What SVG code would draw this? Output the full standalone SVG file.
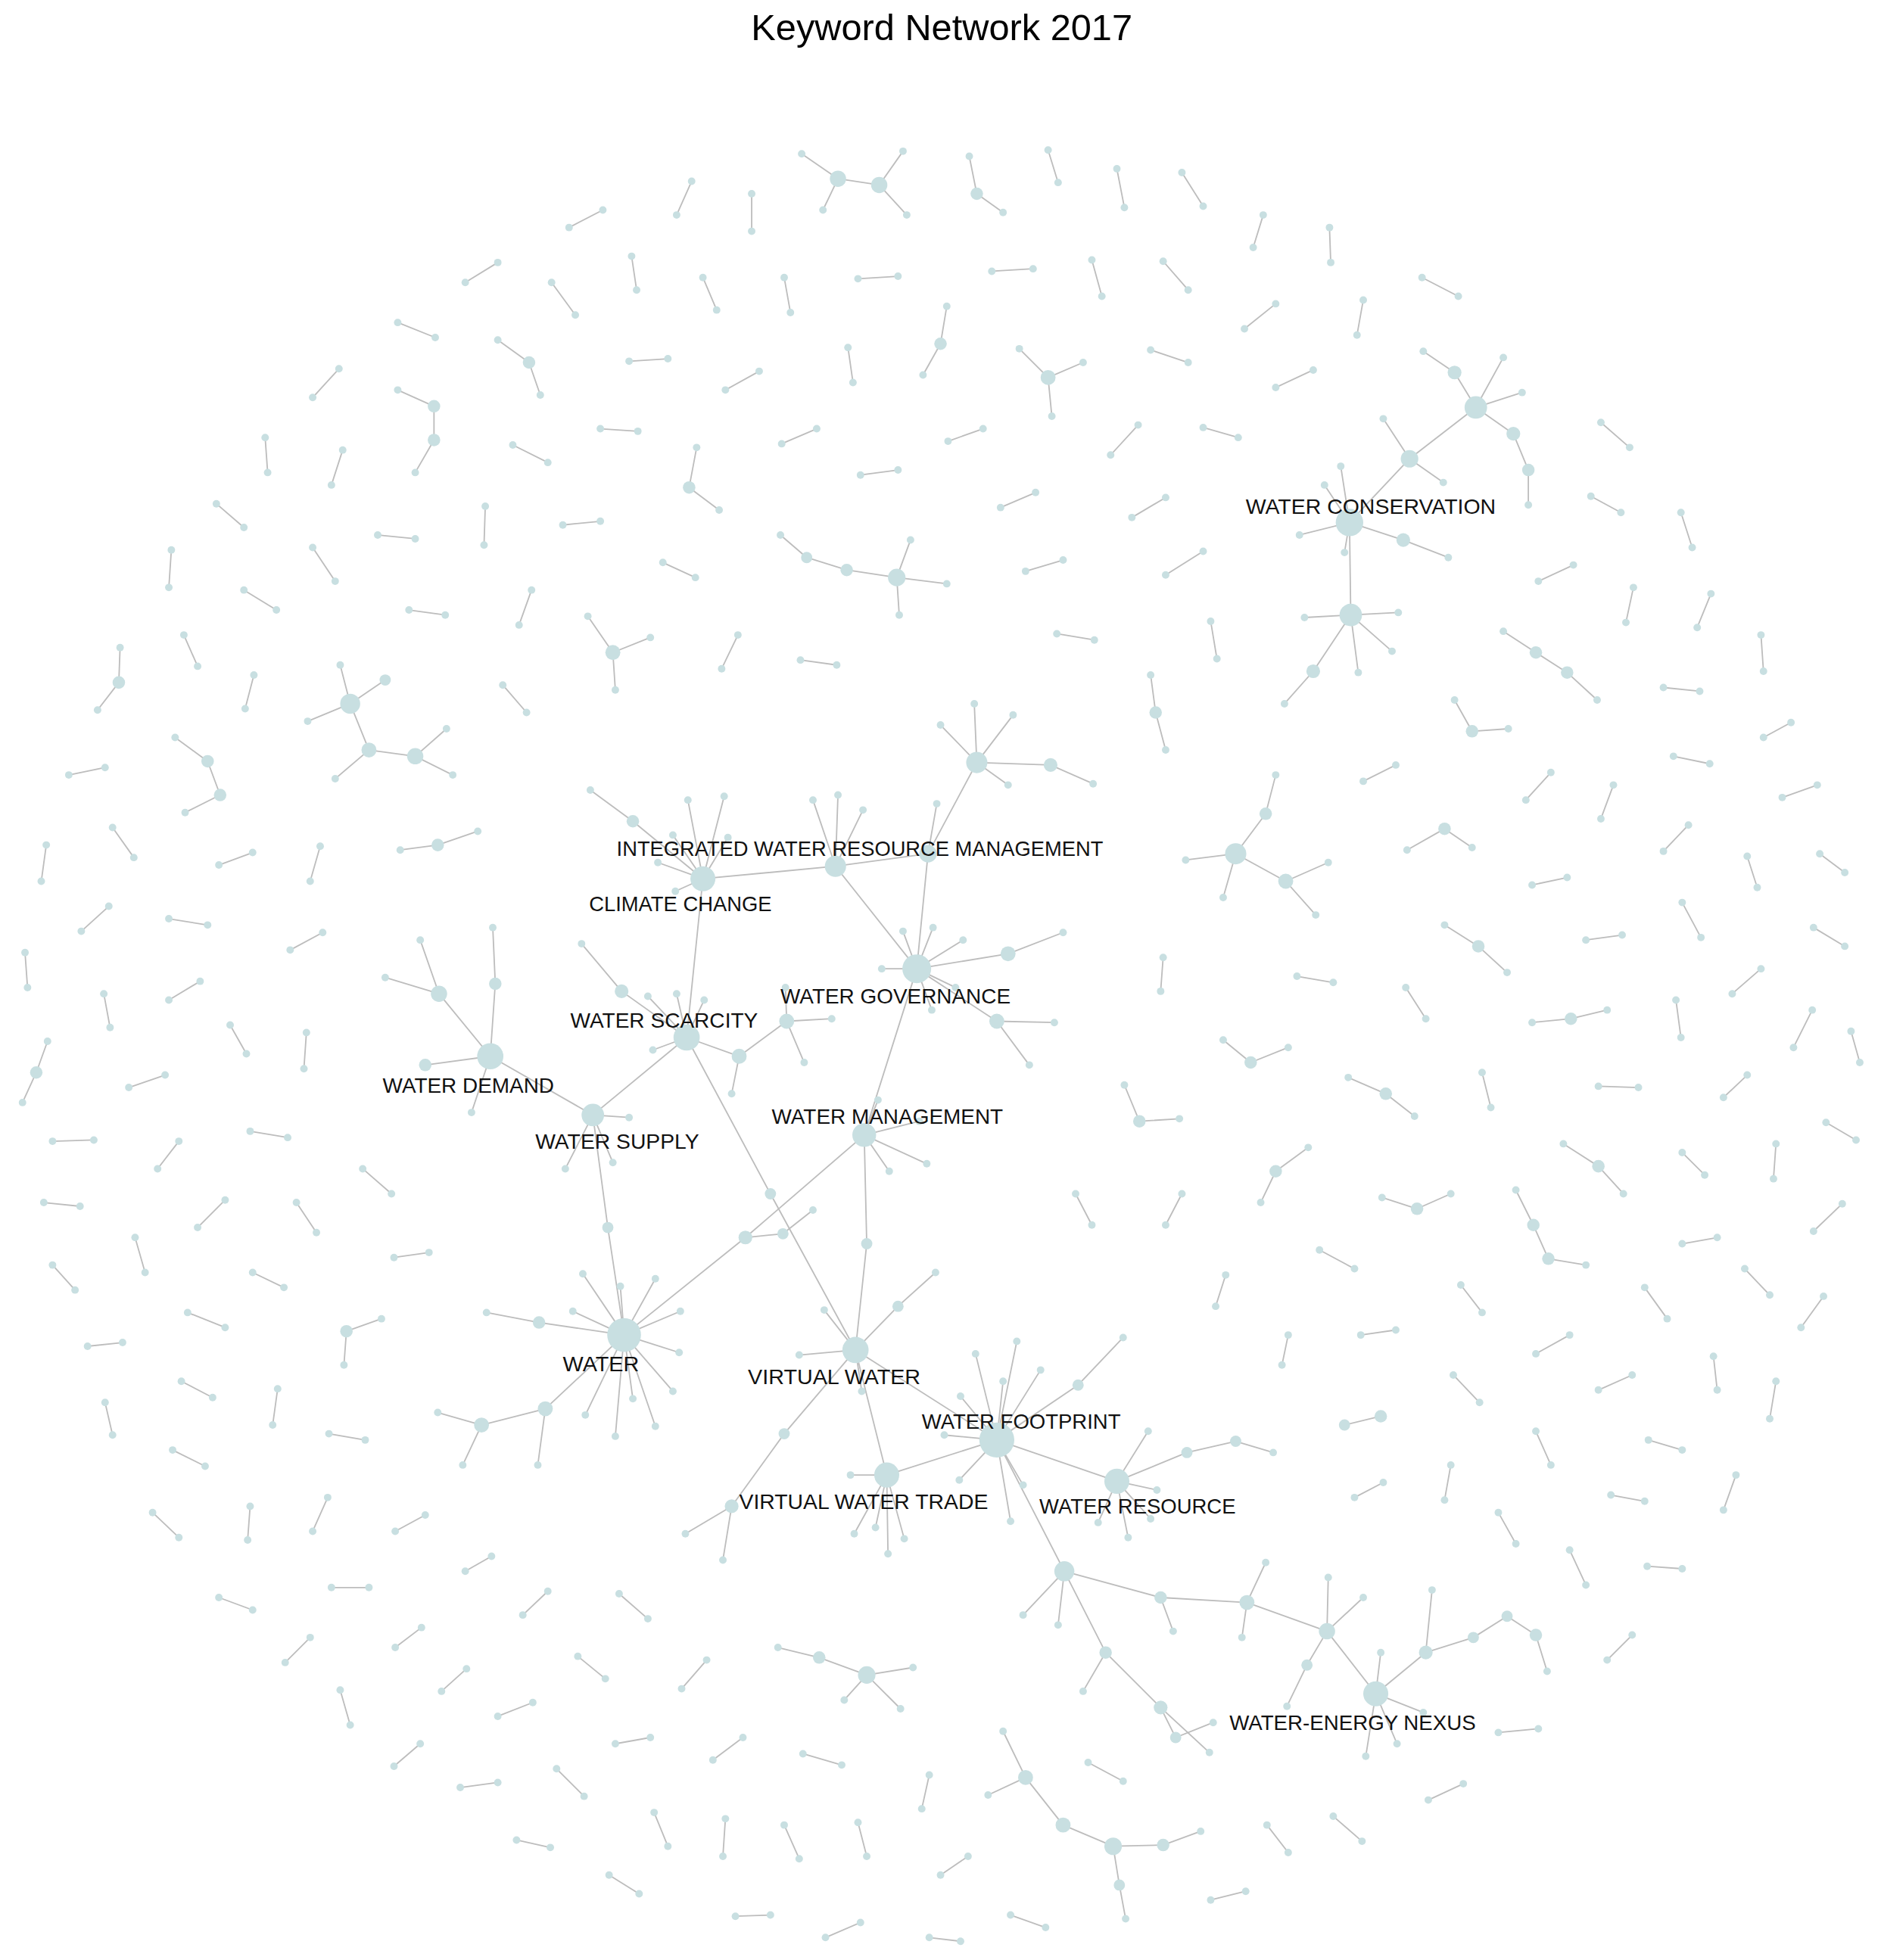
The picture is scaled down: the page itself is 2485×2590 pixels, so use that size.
<svg xmlns="http://www.w3.org/2000/svg" width="2485" height="2590" viewBox="0 0 2485 2590">
<style>
.e line{stroke:#bdbdbd;stroke-width:1.1;stroke-linecap:round}
.n circle{fill:#c8dfe1}
.lb{font-family:"Liberation Sans",Arial,sans-serif;font-size:17px;fill:#111}
.tt{font-family:"Liberation Sans",Arial,sans-serif;font-size:29.5px;fill:#000}
</style>
<rect width="2485" height="2590" fill="#fff"/>
<g transform="scale(1.6523 1.6518)">
<text class="tt" x="753" y="32" text-anchor="middle">Keyword Network 2017</text>
<g id="connectors" class="e">
<!-- main cluster -->
<line x1="562" y1="703" x2="668" y2="693"/><line x1="668" y1="693" x2="742" y2="683"/><line x1="742" y1="683" x2="781" y2="610"/><line x1="742" y1="683" x2="733" y2="775"/><line x1="668" y1="693" x2="733" y2="775"/><line x1="562" y1="703" x2="549" y2="830"/><line x1="733" y1="775" x2="691" y2="908"/><line x1="549" y1="830" x2="474" y2="892"/><line x1="474" y1="892" x2="392" y2="845"/><line x1="474" y1="892" x2="486" y2="982"/><line x1="486" y1="982" x2="499" y2="1068"/><line x1="549" y1="830" x2="616" y2="955"/><line x1="616" y1="955" x2="684" y2="1080"/><line x1="691" y1="908" x2="596" y2="990"/><line x1="596" y1="990" x2="499" y2="1068"/><line x1="596" y1="990" x2="626" y2="987"/><line x1="626" y1="987" x2="650" y2="968"/><line x1="691" y1="908" x2="693" y2="995"/><line x1="693" y1="995" x2="684" y2="1080"/><line x1="684" y1="1080" x2="709" y2="1180"/><line x1="684" y1="1080" x2="797" y2="1152"/><line x1="709" y1="1180" x2="797" y2="1152"/><line x1="797" y1="1152" x2="893" y2="1185"/><line x1="797" y1="1152" x2="851" y2="1257"/>
<line x1="684" y1="1080" x2="627" y2="1147"/><line x1="627" y1="1147" x2="585" y2="1205"/><line x1="585" y1="1205" x2="548" y2="1227"/><line x1="585" y1="1205" x2="578" y2="1248"/><line x1="684" y1="1080" x2="718" y2="1045"/><line x1="718" y1="1045" x2="748" y2="1018"/><line x1="684" y1="1080" x2="659" y2="1048"/><line x1="684" y1="1080" x2="639" y2="1084"/><line x1="684" y1="1080" x2="689" y2="1113"/>
<line x1="797" y1="1152" x2="862" y2="1108"/><line x1="862" y1="1108" x2="898" y2="1070"/><line x1="893" y1="1185" x2="949" y2="1162"/><line x1="949" y1="1162" x2="988" y2="1153"/><line x1="988" y1="1153" x2="1018" y2="1162"/>
<line x1="851" y1="1257" x2="928" y2="1278"/><line x1="928" y1="1278" x2="997" y2="1282"/><line x1="997" y1="1282" x2="1061" y2="1305"/><line x1="1061" y1="1305" x2="1100" y2="1355"/><line x1="851" y1="1257" x2="884" y2="1322"/><line x1="884" y1="1322" x2="928" y2="1366"/><line x1="928" y1="1366" x2="967" y2="1402"/><line x1="928" y1="1366" x2="940" y2="1390"/><line x1="940" y1="1390" x2="970" y2="1378"/><line x1="884" y1="1322" x2="866" y2="1353"/><line x1="851" y1="1257" x2="818" y2="1292"/><line x1="851" y1="1257" x2="846" y2="1300"/><line x1="928" y1="1278" x2="938" y2="1305"/><line x1="997" y1="1282" x2="1012" y2="1250"/><line x1="997" y1="1282" x2="993" y2="1310"/><line x1="1061" y1="1305" x2="1062" y2="1262"/><line x1="1061" y1="1305" x2="1090" y2="1278"/><line x1="1061" y1="1305" x2="1045" y2="1332"/><line x1="1045" y1="1332" x2="1029" y2="1365"/>
<line x1="1100" y1="1355" x2="1104" y2="1322"/><line x1="1100" y1="1355" x2="1138" y2="1370"/><line x1="1100" y1="1355" x2="1117" y2="1395"/><line x1="1100" y1="1355" x2="1092" y2="1405"/><line x1="1100" y1="1355" x2="1140" y2="1322"/><line x1="1140" y1="1322" x2="1178" y2="1310"/><line x1="1178" y1="1310" x2="1205" y2="1293"/><line x1="1205" y1="1293" x2="1228" y2="1308"/><line x1="1228" y1="1308" x2="1237" y2="1337"/><line x1="1140" y1="1322" x2="1145" y2="1272"/>
<line x1="562" y1="703" x2="506" y2="657"/><line x1="506" y1="657" x2="472" y2="632"/><line x1="562" y1="703" x2="550" y2="640"/><line x1="562" y1="703" x2="579" y2="637"/><line x1="562" y1="703" x2="538" y2="668"/><line x1="562" y1="703" x2="526" y2="690"/><line x1="562" y1="703" x2="540" y2="713"/><line x1="562" y1="703" x2="582" y2="670"/>
<line x1="668" y1="693" x2="650" y2="640"/><line x1="668" y1="693" x2="670" y2="636"/><line x1="668" y1="693" x2="690" y2="648"/><line x1="742" y1="683" x2="749" y2="643"/>
<line x1="781" y1="610" x2="779" y2="563"/><line x1="781" y1="610" x2="810" y2="572"/><line x1="781" y1="610" x2="752" y2="580"/><line x1="781" y1="610" x2="806" y2="628"/><line x1="781" y1="610" x2="840" y2="612"/><line x1="840" y1="612" x2="874" y2="627"/>
<line x1="733" y1="775" x2="722" y2="745"/><line x1="733" y1="775" x2="746" y2="742"/><line x1="733" y1="775" x2="770" y2="752"/><line x1="733" y1="775" x2="705" y2="775"/><line x1="733" y1="775" x2="764" y2="790"/><line x1="733" y1="775" x2="745" y2="808"/><line x1="733" y1="775" x2="806" y2="763"/><line x1="806" y1="763" x2="850" y2="746"/><line x1="733" y1="775" x2="797" y2="817"/><line x1="797" y1="817" x2="843" y2="818"/><line x1="797" y1="817" x2="823" y2="852"/>
<line x1="549" y1="830" x2="497" y2="793"/><line x1="497" y1="793" x2="465" y2="755"/><line x1="549" y1="830" x2="518" y2="797"/><line x1="549" y1="830" x2="541" y2="795"/><line x1="549" y1="830" x2="563" y2="800"/><line x1="549" y1="830" x2="522" y2="840"/><line x1="549" y1="830" x2="591" y2="845"/><line x1="591" y1="845" x2="629" y2="817"/><line x1="629" y1="817" x2="665" y2="815"/><line x1="629" y1="817" x2="643" y2="850"/><line x1="629" y1="817" x2="628" y2="790"/><line x1="591" y1="845" x2="585" y2="875"/>
<line x1="474" y1="892" x2="503" y2="894"/><line x1="474" y1="892" x2="452" y2="935"/><line x1="474" y1="892" x2="490" y2="930"/>
<line x1="392" y1="845" x2="396" y2="787"/><line x1="396" y1="787" x2="394" y2="742"/><line x1="392" y1="845" x2="351" y2="795"/><line x1="351" y1="795" x2="336" y2="752"/><line x1="351" y1="795" x2="308" y2="782"/><line x1="392" y1="845" x2="340" y2="852"/><line x1="392" y1="845" x2="377" y2="890"/>
<line x1="691" y1="908" x2="702" y2="880"/><line x1="691" y1="908" x2="735" y2="897"/><line x1="691" y1="908" x2="741" y2="931"/><line x1="691" y1="908" x2="711" y2="937"/>
<line x1="499" y1="1068" x2="466" y2="1019"/><line x1="499" y1="1068" x2="496" y2="1029"/><line x1="499" y1="1068" x2="524" y2="1023"/><line x1="499" y1="1068" x2="544" y2="1049"/><line x1="499" y1="1068" x2="543" y2="1082"/><line x1="499" y1="1068" x2="538" y2="1113"/><line x1="499" y1="1068" x2="524" y2="1141"/><line x1="499" y1="1068" x2="506" y2="1119"/><line x1="499" y1="1068" x2="492" y2="1149"/><line x1="499" y1="1068" x2="468" y2="1132"/><line x1="499" y1="1068" x2="458" y2="1049"/><line x1="499" y1="1068" x2="431" y2="1058"/><line x1="431" y1="1058" x2="389" y2="1050"/><line x1="499" y1="1068" x2="436" y2="1127"/><line x1="436" y1="1127" x2="385" y2="1140"/><line x1="385" y1="1140" x2="350" y2="1130"/><line x1="385" y1="1140" x2="370" y2="1172"/><line x1="436" y1="1127" x2="430" y2="1172"/>
<line x1="709" y1="1180" x2="680" y2="1180"/><line x1="709" y1="1180" x2="683" y2="1227"/><line x1="709" y1="1180" x2="700" y2="1222"/><line x1="709" y1="1180" x2="710" y2="1243"/><line x1="709" y1="1180" x2="723" y2="1231"/>
<line x1="797" y1="1152" x2="780" y2="1083"/><line x1="797" y1="1152" x2="813" y2="1073"/><line x1="797" y1="1152" x2="832" y2="1096"/><line x1="797" y1="1152" x2="802" y2="1105"/><line x1="797" y1="1152" x2="768" y2="1117"/><line x1="797" y1="1152" x2="755" y2="1148"/><line x1="797" y1="1152" x2="767" y2="1184"/><line x1="797" y1="1152" x2="808" y2="1217"/><line x1="797" y1="1152" x2="818" y2="1188"/>
<line x1="893" y1="1185" x2="918" y2="1145"/><line x1="893" y1="1185" x2="925" y2="1192"/><line x1="893" y1="1185" x2="878" y2="1218"/><line x1="893" y1="1185" x2="902" y2="1230"/><line x1="893" y1="1185" x2="920" y2="1215"/>
<!-- water conservation cluster -->
<line x1="1079" y1="418" x2="1127" y2="367"/><line x1="1127" y1="367" x2="1180" y2="326"/><line x1="1127" y1="367" x2="1106" y2="335"/><line x1="1127" y1="367" x2="1154" y2="386"/><line x1="1180" y1="326" x2="1163" y2="298"/><line x1="1163" y1="298" x2="1138" y2="281"/><line x1="1180" y1="326" x2="1202" y2="286"/><line x1="1180" y1="326" x2="1217" y2="314"/><line x1="1180" y1="326" x2="1210" y2="347"/><line x1="1210" y1="347" x2="1222" y2="376"/><line x1="1222" y1="376" x2="1222" y2="404"/>
<line x1="1079" y1="418" x2="1072" y2="373"/><line x1="1079" y1="418" x2="1059" y2="388"/><line x1="1079" y1="418" x2="1039" y2="428"/><line x1="1079" y1="418" x2="1075" y2="442"/><line x1="1079" y1="418" x2="1122" y2="432"/><line x1="1122" y1="432" x2="1158" y2="446"/><line x1="1079" y1="418" x2="1080" y2="492"/><line x1="1080" y1="492" x2="1043" y2="494"/><line x1="1080" y1="492" x2="1118" y2="490"/><line x1="1080" y1="492" x2="1113" y2="521"/><line x1="1080" y1="492" x2="1086" y2="538"/><line x1="1080" y1="492" x2="1050" y2="537"/><line x1="1050" y1="537" x2="1027" y2="563"/>
<!-- other small components -->
<line x1="988" y1="683" x2="1012" y2="651"/><line x1="1012" y1="651" x2="1020" y2="620"/><line x1="988" y1="683" x2="948" y2="688"/><line x1="988" y1="683" x2="978" y2="718"/><line x1="988" y1="683" x2="1028" y2="705"/><line x1="1028" y1="705" x2="1062" y2="690"/><line x1="1028" y1="705" x2="1052" y2="732"/>
<line x1="641" y1="123" x2="670" y2="143"/><line x1="670" y1="143" x2="703" y2="148"/><line x1="703" y1="148" x2="722" y2="121"/><line x1="703" y1="148" x2="725" y2="172"/><line x1="670" y1="143" x2="658" y2="168"/>
<line x1="775" y1="125" x2="781" y2="155"/><line x1="781" y1="155" x2="802" y2="170"/>
<line x1="838" y1="302" x2="815" y2="279"/><line x1="838" y1="302" x2="866" y2="290"/><line x1="838" y1="302" x2="841" y2="333"/>
<line x1="757" y1="245" x2="752" y2="275"/><line x1="752" y1="275" x2="738" y2="300"/>
<line x1="398" y1="272" x2="423" y2="290"/><line x1="423" y1="290" x2="432" y2="316"/>
<line x1="318" y1="312" x2="347" y2="325"/><line x1="347" y1="325" x2="347" y2="352"/><line x1="347" y1="352" x2="332" y2="378"/>
<line x1="557" y1="358" x2="551" y2="390"/><line x1="551" y1="390" x2="575" y2="408"/>
<line x1="624" y1="428" x2="645" y2="446"/><line x1="645" y1="446" x2="677" y2="456"/><line x1="677" y1="456" x2="717" y2="462"/><line x1="717" y1="462" x2="757" y2="467"/><line x1="717" y1="462" x2="728" y2="432"/><line x1="717" y1="462" x2="719" y2="492"/>
<line x1="490" y1="522" x2="470" y2="493"/><line x1="490" y1="522" x2="520" y2="510"/><line x1="490" y1="522" x2="492" y2="552"/>
<line x1="96" y1="518" x2="95" y2="546"/><line x1="95" y1="546" x2="78" y2="568"/>
<line x1="280" y1="563" x2="272" y2="532"/><line x1="280" y1="563" x2="308" y2="544"/><line x1="280" y1="563" x2="246" y2="577"/><line x1="280" y1="563" x2="295" y2="600"/><line x1="295" y1="600" x2="332" y2="605"/><line x1="332" y1="605" x2="357" y2="583"/><line x1="332" y1="605" x2="362" y2="620"/><line x1="295" y1="600" x2="268" y2="623"/>
<line x1="140" y1="590" x2="166" y2="609"/><line x1="166" y1="609" x2="176" y2="636"/><line x1="176" y1="636" x2="148" y2="650"/>
<line x1="320" y1="680" x2="350" y2="676"/><line x1="350" y1="676" x2="382" y2="665"/>
<line x1="920" y1="540" x2="924" y2="570"/><line x1="924" y1="570" x2="932" y2="600"/>
<line x1="1163" y1="560" x2="1177" y2="585"/><line x1="1177" y1="585" x2="1206" y2="583"/>
<line x1="1125" y1="680" x2="1155" y2="663"/><line x1="1155" y1="663" x2="1177" y2="678"/>
<line x1="1202" y1="505" x2="1228" y2="522"/><line x1="1228" y1="522" x2="1253" y2="538"/><line x1="1253" y1="538" x2="1277" y2="560"/>
<line x1="1155" y1="740" x2="1182" y2="757"/><line x1="1182" y1="757" x2="1205" y2="778"/>
<line x1="1225" y1="818" x2="1256" y2="815"/><line x1="1256" y1="815" x2="1285" y2="808"/>
<line x1="978" y1="832" x2="1000" y2="850"/><line x1="1000" y1="850" x2="1030" y2="838"/>
<line x1="38" y1="833" x2="29" y2="858"/><line x1="29" y1="858" x2="18" y2="882"/>
<line x1="899" y1="868" x2="911" y2="897"/><line x1="911" y1="897" x2="943" y2="895"/>
<line x1="1078" y1="862" x2="1108" y2="875"/><line x1="1108" y1="875" x2="1131" y2="893"/>
<line x1="1046" y1="918" x2="1020" y2="937"/><line x1="1020" y1="937" x2="1008" y2="962"/>
<line x1="1250" y1="915" x2="1278" y2="933"/><line x1="1278" y1="933" x2="1298" y2="955"/>
<line x1="1105" y1="958" x2="1133" y2="967"/><line x1="1133" y1="967" x2="1160" y2="955"/>
<line x1="1212" y1="952" x2="1226" y2="980"/><line x1="1226" y1="980" x2="1238" y2="1007"/><line x1="1238" y1="1007" x2="1268" y2="1012"/>
<line x1="305" y1="1055" x2="277" y2="1065"/><line x1="277" y1="1065" x2="275" y2="1092"/>
<line x1="622" y1="1318" x2="655" y2="1326"/><line x1="655" y1="1326" x2="693" y2="1340"/><line x1="693" y1="1340" x2="730" y2="1334"/><line x1="693" y1="1340" x2="675" y2="1360"/><line x1="693" y1="1340" x2="720" y2="1367"/>
<line x1="802" y1="1385" x2="820" y2="1422"/><line x1="820" y1="1422" x2="850" y2="1460"/><line x1="850" y1="1460" x2="890" y2="1477"/><line x1="890" y1="1477" x2="930" y2="1476"/><line x1="930" y1="1476" x2="960" y2="1465"/><line x1="890" y1="1477" x2="895" y2="1508"/><line x1="895" y1="1508" x2="900" y2="1535"/><line x1="820" y1="1422" x2="790" y2="1436"/>
<!-- dyads -->
<line x1="838" y1="120" x2="846" y2="146"/><line x1="893" y1="135" x2="899" y2="166"/><line x1="945" y1="138" x2="962" y2="165"/><line x1="553" y1="145" x2="541" y2="172"/><line x1="601" y1="155" x2="601" y2="185"/><line x1="482" y1="168" x2="455" y2="182"/><line x1="1010" y1="172" x2="1002" y2="198"/><line x1="1063" y1="182" x2="1064" y2="210"/><line x1="398" y1="210" x2="372" y2="226"/><line x1="505" y1="205" x2="509" y2="232"/><line x1="441" y1="226" x2="460" y2="252"/><line x1="562" y1="222" x2="573" y2="248"/><line x1="627" y1="222" x2="632" y2="250"/><line x1="686" y1="223" x2="718" y2="221"/><line x1="793" y1="217" x2="826" y2="215"/><line x1="873" y1="208" x2="881" y2="237"/><line x1="930" y1="209" x2="950" y2="232"/><line x1="1020" y1="243" x2="995" y2="263"/><line x1="1137" y1="222" x2="1166" y2="237"/><line x1="1090" y1="240" x2="1085" y2="268"/>
<line x1="318" y1="258" x2="348" y2="270"/><line x1="503" y1="289" x2="534" y2="287"/><line x1="678" y1="278" x2="682" y2="306"/><line x1="920" y1="280" x2="950" y2="290"/><line x1="1020" y1="310" x2="1050" y2="296"/><line x1="271" y1="295" x2="250" y2="318"/><line x1="580" y1="312" x2="607" y2="297"/><line x1="480" y1="343" x2="510" y2="345"/><line x1="625" y1="355" x2="653" y2="343"/><line x1="758" y1="353" x2="786" y2="343"/><line x1="910" y1="340" x2="888" y2="364"/><line x1="962" y1="342" x2="990" y2="350"/><line x1="212" y1="350" x2="214" y2="378"/><line x1="274" y1="360" x2="265" y2="388"/><line x1="410" y1="356" x2="438" y2="370"/><line x1="688" y1="380" x2="718" y2="376"/><line x1="1280" y1="338" x2="1303" y2="358"/>
<line x1="173" y1="403" x2="195" y2="422"/><line x1="388" y1="405" x2="387" y2="436"/><line x1="302" y1="428" x2="332" y2="431"/><line x1="450" y1="420" x2="480" y2="417"/><line x1="800" y1="406" x2="828" y2="394"/><line x1="905" y1="414" x2="932" y2="398"/><line x1="1272" y1="397" x2="1296" y2="410"/><line x1="1344" y1="410" x2="1353" y2="438"/><line x1="137" y1="440" x2="135" y2="470"/><line x1="250" y1="438" x2="268" y2="465"/><line x1="530" y1="450" x2="556" y2="462"/><line x1="820" y1="457" x2="850" y2="448"/><line x1="932" y1="460" x2="962" y2="441"/><line x1="1230" y1="465" x2="1258" y2="452"/><line x1="1306" y1="470" x2="1300" y2="498"/><line x1="195" y1="472" x2="221" y2="488"/><line x1="327" y1="488" x2="356" y2="492"/><line x1="425" y1="472" x2="415" y2="500"/><line x1="590" y1="508" x2="577" y2="535"/><line x1="640" y1="528" x2="669" y2="532"/><line x1="845" y1="507" x2="875" y2="512"/><line x1="968" y1="497" x2="973" y2="527"/><line x1="1368" y1="475" x2="1357" y2="502"/><line x1="147" y1="508" x2="158" y2="533"/><line x1="203" y1="540" x2="196" y2="567"/><line x1="402" y1="548" x2="421" y2="570"/><line x1="1408" y1="508" x2="1410" y2="537"/><line x1="1330" y1="550" x2="1359" y2="553"/>
<line x1="55" y1="620" x2="84" y2="614"/><line x1="1410" y1="590" x2="1432" y2="578"/><line x1="1090" y1="625" x2="1116" y2="612"/><line x1="1338" y1="605" x2="1367" y2="611"/><line x1="1220" y1="640" x2="1240" y2="618"/><line x1="1290" y1="628" x2="1280" y2="655"/><line x1="1425" y1="638" x2="1453" y2="628"/><line x1="256" y1="677" x2="248" y2="705"/><line x1="90" y1="662" x2="107" y2="686"/><line x1="37" y1="676" x2="33" y2="705"/><line x1="175" y1="692" x2="202" y2="682"/><line x1="1330" y1="681" x2="1350" y2="660"/><line x1="1397" y1="685" x2="1405" y2="710"/><line x1="1455" y1="683" x2="1475" y2="698"/><line x1="1225" y1="708" x2="1253" y2="702"/><line x1="65" y1="745" x2="87" y2="725"/><line x1="135" y1="735" x2="166" y2="740"/><line x1="232" y1="760" x2="258" y2="746"/><line x1="1268" y1="752" x2="1297" y2="748"/><line x1="1037" y1="781" x2="1066" y2="786"/><line x1="1345" y1="722" x2="1360" y2="750"/><line x1="1450" y1="742" x2="1475" y2="757"/>
<line x1="135" y1="800" x2="160" y2="785"/><line x1="83" y1="795" x2="88" y2="822"/><line x1="20" y1="762" x2="22" y2="790"/><line x1="930" y1="766" x2="928" y2="793"/><line x1="184" y1="820" x2="197" y2="843"/><line x1="245" y1="826" x2="243" y2="855"/><line x1="1124" y1="790" x2="1140" y2="815"/><line x1="1340" y1="800" x2="1344" y2="830"/><line x1="1408" y1="775" x2="1385" y2="795"/><line x1="103" y1="870" x2="132" y2="860"/><line x1="1449" y1="808" x2="1434" y2="838"/><line x1="1480" y1="825" x2="1487" y2="850"/><line x1="1185" y1="858" x2="1192" y2="886"/><line x1="1378" y1="878" x2="1397" y2="860"/><line x1="1278" y1="869" x2="1310" y2="870"/><line x1="42" y1="913" x2="75" y2="912"/><line x1="126" y1="935" x2="143" y2="913"/><line x1="200" y1="905" x2="230" y2="910"/><line x1="290" y1="935" x2="313" y2="955"/><line x1="1460" y1="898" x2="1484" y2="912"/><line x1="1345" y1="922" x2="1363" y2="940"/><line x1="1420" y1="915" x2="1418" y2="943"/>
<line x1="35" y1="962" x2="64" y2="965"/><line x1="158" y1="982" x2="180" y2="960"/><line x1="237" y1="962" x2="253" y2="986"/><line x1="860" y1="955" x2="873" y2="980"/><line x1="945" y1="955" x2="932" y2="980"/><line x1="1450" y1="985" x2="1473" y2="963"/><line x1="42" y1="1012" x2="60" y2="1032"/><line x1="108" y1="990" x2="116" y2="1018"/><line x1="202" y1="1018" x2="227" y2="1030"/><line x1="315" y1="1006" x2="343" y2="1002"/><line x1="980" y1="1020" x2="972" y2="1045"/><line x1="1055" y1="1000" x2="1083" y2="1015"/><line x1="1345" y1="995" x2="1373" y2="990"/><line x1="1395" y1="1015" x2="1415" y2="1036"/><line x1="150" y1="1050" x2="180" y2="1062"/><line x1="70" y1="1077" x2="98" y2="1074"/><line x1="1030" y1="1068" x2="1025" y2="1092"/><line x1="1088" y1="1068" x2="1116" y2="1064"/><line x1="1168" y1="1028" x2="1185" y2="1050"/><line x1="1315" y1="1030" x2="1333" y2="1055"/><line x1="1440" y1="1062" x2="1458" y2="1037"/><line x1="1228" y1="1083" x2="1255" y2="1068"/><line x1="1278" y1="1112" x2="1305" y2="1100"/><line x1="1370" y1="1085" x2="1373" y2="1112"/><line x1="1415" y1="1135" x2="1420" y2="1105"/>
<line x1="145" y1="1105" x2="170" y2="1118"/><line x1="222" y1="1111" x2="218" y2="1140"/><line x1="84" y1="1122" x2="90" y2="1148"/><line x1="1162" y1="1100" x2="1183" y2="1122"/><line x1="1075" y1="1140" x2="1104" y2="1133"/><line x1="263" y1="1147" x2="292" y2="1152"/><line x1="1228" y1="1145" x2="1240" y2="1172"/><line x1="1318" y1="1152" x2="1345" y2="1160"/><line x1="138" y1="1160" x2="164" y2="1173"/><line x1="1160" y1="1172" x2="1155" y2="1200"/><line x1="1083" y1="1198" x2="1106" y2="1186"/><line x1="1388" y1="1180" x2="1378" y2="1208"/><line x1="1288" y1="1196" x2="1315" y2="1201"/><line x1="1255" y1="1240" x2="1268" y2="1268"/><line x1="122" y1="1210" x2="143" y2="1230"/><line x1="200" y1="1205" x2="198" y2="1232"/><line x1="262" y1="1198" x2="250" y2="1225"/><line x1="316" y1="1225" x2="340" y2="1212"/><line x1="372" y1="1257" x2="393" y2="1245"/><line x1="1198" y1="1210" x2="1212" y2="1235"/><line x1="1317" y1="1253" x2="1345" y2="1255"/>
<line x1="175" y1="1278" x2="202" y2="1288"/><line x1="265" y1="1270" x2="295" y2="1270"/><line x1="418" y1="1292" x2="438" y2="1273"/><line x1="495" y1="1275" x2="518" y2="1295"/><line x1="228" y1="1330" x2="248" y2="1310"/><line x1="316" y1="1318" x2="337" y2="1302"/><line x1="1285" y1="1328" x2="1305" y2="1308"/><line x1="353" y1="1353" x2="373" y2="1335"/><line x1="462" y1="1325" x2="484" y2="1343"/><line x1="545" y1="1351" x2="565" y2="1328"/><line x1="272" y1="1352" x2="280" y2="1380"/><line x1="398" y1="1373" x2="426" y2="1362"/><line x1="1198" y1="1386" x2="1230" y2="1383"/><line x1="315" y1="1413" x2="336" y2="1395"/><line x1="368" y1="1430" x2="398" y2="1426"/><line x1="445" y1="1415" x2="467" y2="1437"/><line x1="492" y1="1395" x2="520" y2="1390"/><line x1="570" y1="1408" x2="594" y2="1390"/><line x1="642" y1="1403" x2="673" y2="1412"/><line x1="743" y1="1420" x2="737" y2="1447"/><line x1="870" y1="1410" x2="898" y2="1425"/><line x1="1142" y1="1440" x2="1170" y2="1427"/><line x1="1066" y1="1453" x2="1089" y2="1473"/><line x1="1013" y1="1460" x2="1030" y2="1482"/><line x1="413" y1="1472" x2="440" y2="1478"/><line x1="523" y1="1450" x2="534" y2="1477"/><line x1="580" y1="1455" x2="578" y2="1485"/><line x1="627" y1="1460" x2="639" y2="1487"/><line x1="686" y1="1458" x2="693" y2="1485"/><line x1="752" y1="1500" x2="774" y2="1485"/><line x1="487" y1="1500" x2="511" y2="1515"/><line x1="588" y1="1533" x2="616" y2="1532"/><line x1="660" y1="1550" x2="688" y2="1538"/><line x1="743" y1="1550" x2="768" y2="1553"/><line x1="808" y1="1532" x2="836" y2="1542"/><line x1="968" y1="1520" x2="996" y2="1513"/>
</g>
<g id="nodes" class="n">
<!-- main cluster leaves and intermediates -->
<circle id="m1" cx="486" cy="982" r="4.5"/><circle id="m2" cx="616" cy="955" r="4.5"/><circle id="m3" cx="596" cy="990" r="5.5"/><circle id="m4" cx="626" cy="987" r="4.5"/><circle cx="650" cy="968" r="3"/><circle id="m5" cx="693" cy="995" r="4.5"/>
<circle id="m6" cx="627" cy="1147" r="4.5"/><circle id="m7" cx="585" cy="1205" r="5.5"/><circle cx="548" cy="1227" r="3"/><circle cx="578" cy="1248" r="3"/><circle id="m8" cx="718" cy="1045" r="4.5"/><circle cx="748" cy="1018" r="3"/><circle cx="659" cy="1048" r="3"/><circle cx="639" cy="1084" r="3"/><circle cx="689" cy="1113" r="3"/>
<circle id="m9" cx="862" cy="1108" r="4.5"/><circle cx="898" cy="1070" r="3"/><circle id="m10" cx="949" cy="1162" r="4.5"/><circle id="m11" cx="988" cy="1153" r="4.5"/><circle cx="1018" cy="1162" r="3"/>
<circle id="m12" cx="928" cy="1278" r="5"/><circle id="m13" cx="997" cy="1282" r="6"/><circle id="m14" cx="1061" cy="1305" r="6.5"/><circle id="m15" cx="884" cy="1322" r="5"/><circle id="m16" cx="928" cy="1366" r="5.5"/><circle cx="967" cy="1402" r="3"/><circle id="m17" cx="940" cy="1390" r="4.5"/><circle cx="970" cy="1378" r="3"/><circle cx="866" cy="1353" r="3"/><circle cx="818" cy="1292" r="3"/><circle cx="846" cy="1300" r="3"/><circle cx="938" cy="1305" r="3"/><circle cx="1012" cy="1250" r="3"/><circle cx="993" cy="1310" r="3"/><circle cx="1062" cy="1262" r="3"/><circle cx="1090" cy="1278" r="3"/><circle id="m18" cx="1045" cy="1332" r="4.5"/><circle cx="1029" cy="1365" r="3"/>
<circle cx="1104" cy="1322" r="3"/><circle cx="1138" cy="1370" r="3"/><circle cx="1117" cy="1395" r="3"/><circle cx="1092" cy="1405" r="3"/><circle id="m19" cx="1140" cy="1322" r="5.5"/><circle id="m20" cx="1178" cy="1310" r="4.5"/><circle id="m21" cx="1205" cy="1293" r="4.5"/><circle id="m22" cx="1228" cy="1308" r="5"/><circle cx="1237" cy="1337" r="3"/><circle cx="1145" cy="1272" r="3"/>
<circle id="cca" cx="506" cy="657" r="5"/><circle cx="472" cy="632" r="3"/><circle cx="550" cy="640" r="3"/><circle cx="579" cy="637" r="3"/><circle cx="538" cy="668" r="3"/><circle cx="526" cy="690" r="3"/><circle cx="540" cy="713" r="3"/><circle cx="582" cy="670" r="3"/>
<circle cx="650" cy="640" r="3"/><circle cx="670" cy="636" r="3"/><circle cx="690" cy="648" r="3"/><circle id="n1" cx="742" cy="683" r="7"/><circle cx="749" cy="643" r="3"/>
<circle id="ht" cx="781" cy="610" r="8.5"/><circle cx="779" cy="563" r="3"/><circle cx="810" cy="572" r="3"/><circle cx="752" cy="580" r="3"/><circle cx="806" cy="628" r="3"/><circle id="htn" cx="840" cy="612" r="5.5"/><circle cx="874" cy="627" r="3"/>
<circle cx="722" cy="745" r="3"/><circle cx="746" cy="742" r="3"/><circle cx="770" cy="752" r="3"/><circle cx="705" cy="775" r="3"/><circle cx="764" cy="790" r="3"/><circle cx="745" cy="808" r="3"/><circle id="g1" cx="806" cy="763" r="6"/><circle cx="850" cy="746" r="3"/><circle id="g2" cx="797" cy="817" r="6"/><circle cx="843" cy="818" r="3"/><circle cx="823" cy="852" r="3"/>
<circle id="s1" cx="497" cy="793" r="5.5"/><circle cx="465" cy="755" r="3"/><circle cx="518" cy="797" r="3"/><circle cx="541" cy="795" r="3"/><circle cx="563" cy="800" r="3"/><circle cx="522" cy="840" r="3"/><circle id="s2" cx="591" cy="845" r="6"/><circle id="s3" cx="629" cy="817" r="6"/><circle cx="665" cy="815" r="3"/><circle cx="643" cy="850" r="3"/><circle cx="628" cy="790" r="3"/><circle cx="585" cy="875" r="3"/>
<circle cx="503" cy="894" r="3"/><circle cx="452" cy="935" r="3"/><circle cx="490" cy="930" r="3"/>
<circle id="w1" cx="396" cy="787" r="5"/><circle cx="394" cy="742" r="3"/><circle id="w2" cx="351" cy="795" r="6.5"/><circle cx="336" cy="752" r="3"/><circle cx="308" cy="782" r="3"/><circle id="w3" cx="340" cy="852" r="5"/><circle cx="377" cy="890" r="3"/>
<circle cx="702" cy="880" r="3"/><circle cx="735" cy="897" r="3"/><circle cx="741" cy="931" r="3"/><circle cx="711" cy="937" r="3"/>
<circle cx="466" cy="1019" r="3"/><circle cx="496" cy="1029" r="3"/><circle cx="524" cy="1023" r="3"/><circle cx="544" cy="1049" r="3"/><circle cx="543" cy="1082" r="3"/><circle cx="538" cy="1113" r="3"/><circle cx="524" cy="1141" r="3"/><circle cx="506" cy="1119" r="3"/><circle cx="492" cy="1149" r="3"/><circle cx="468" cy="1132" r="3"/><circle cx="458" cy="1049" r="3"/><circle id="w4" cx="431" cy="1058" r="5"/><circle cx="389" cy="1050" r="3"/><circle id="w5" cx="436" cy="1127" r="6"/><circle id="w6" cx="385" cy="1140" r="6"/><circle cx="350" cy="1130" r="3"/><circle cx="370" cy="1172" r="3"/><circle cx="430" cy="1172" r="3"/>
<circle cx="680" cy="1180" r="3"/><circle cx="683" cy="1227" r="3"/><circle cx="700" cy="1222" r="3"/><circle cx="710" cy="1243" r="3"/><circle cx="723" cy="1231" r="3"/>
<circle cx="780" cy="1083" r="3"/><circle cx="813" cy="1073" r="3"/><circle cx="832" cy="1096" r="3"/><circle cx="802" cy="1105" r="3"/><circle cx="768" cy="1117" r="3"/><circle cx="755" cy="1148" r="3"/><circle cx="767" cy="1184" r="3"/><circle cx="808" cy="1217" r="3"/><circle cx="818" cy="1188" r="3"/>
<circle cx="918" cy="1145" r="3"/><circle cx="925" cy="1192" r="3"/><circle cx="878" cy="1218" r="3"/><circle cx="902" cy="1230" r="3"/><circle cx="920" cy="1215" r="3"/>
<circle id="n2" cx="851" cy="1257" r="8"/>
<!-- water conservation cluster -->
<circle id="c1" cx="1127" cy="367" r="7"/><circle id="hc" cx="1180" cy="326" r="9"/><circle cx="1106" cy="335" r="3"/><circle cx="1154" cy="386" r="3"/><circle id="c2" cx="1163" cy="298" r="5.5"/><circle cx="1138" cy="281" r="3"/><circle cx="1202" cy="286" r="3"/><circle cx="1217" cy="314" r="3"/><circle id="c3" cx="1210" cy="347" r="5.5"/><circle id="c4" cx="1222" cy="376" r="5"/><circle cx="1222" cy="404" r="3"/>
<circle cx="1072" cy="373" r="3"/><circle cx="1059" cy="388" r="3"/><circle cx="1039" cy="428" r="3"/><circle cx="1075" cy="442" r="3"/><circle id="c5" cx="1122" cy="432" r="5.5"/><circle cx="1158" cy="446" r="3"/><circle id="hb" cx="1080" cy="492" r="9"/><circle cx="1043" cy="494" r="3"/><circle cx="1118" cy="490" r="3"/><circle cx="1113" cy="521" r="3"/><circle cx="1086" cy="538" r="3"/><circle id="c6" cx="1050" cy="537" r="5.5"/><circle cx="1027" cy="563" r="3"/>
<!-- other components -->
<circle id="k0" cx="988" cy="683" r="8.5"/><circle id="k1" cx="1012" cy="651" r="5"/><circle cx="1020" cy="620" r="3"/><circle cx="948" cy="688" r="3"/><circle cx="978" cy="718" r="3"/><circle id="k2" cx="1028" cy="705" r="6"/><circle cx="1062" cy="690" r="3"/><circle cx="1052" cy="732" r="3"/>
<circle cx="641" cy="123" r="3"/><circle id="t1" cx="670" cy="143" r="6.5"/><circle id="t2" cx="703" cy="148" r="6.5"/><circle cx="722" cy="121" r="3"/><circle cx="725" cy="172" r="3"/><circle cx="658" cy="168" r="3"/>
<circle cx="775" cy="125" r="3"/><circle cx="781" cy="155" r="5"/><circle cx="802" cy="170" r="3"/>
<circle cx="838" cy="302" r="6"/><circle cx="815" cy="279" r="3"/><circle cx="866" cy="290" r="3"/><circle cx="841" cy="333" r="3"/>
<circle cx="757" cy="245" r="3"/><circle cx="752" cy="275" r="5"/><circle cx="738" cy="300" r="3"/>
<circle cx="398" cy="272" r="3"/><circle cx="423" cy="290" r="5"/><circle cx="432" cy="316" r="3"/>
<circle cx="318" cy="312" r="3"/><circle cx="347" cy="325" r="5"/><circle cx="347" cy="352" r="5"/><circle cx="332" cy="378" r="3"/>
<circle cx="557" cy="358" r="3"/><circle cx="551" cy="390" r="5"/><circle cx="575" cy="408" r="3"/>
<circle cx="624" cy="428" r="3"/><circle cx="645" cy="446" r="4.5"/><circle cx="677" cy="456" r="5"/><circle cx="717" cy="462" r="7"/><circle cx="757" cy="467" r="3"/><circle cx="728" cy="432" r="3"/><circle cx="719" cy="492" r="3"/>
<circle cx="490" cy="522" r="6"/><circle cx="470" cy="493" r="3"/><circle cx="520" cy="510" r="3"/><circle cx="492" cy="552" r="3"/>
<circle cx="96" cy="518" r="3"/><circle cx="95" cy="546" r="5"/><circle cx="78" cy="568" r="3"/>
<circle cx="280" cy="563" r="8"/><circle cx="272" cy="532" r="3"/><circle cx="308" cy="544" r="4.5"/><circle cx="246" cy="577" r="3"/><circle cx="295" cy="600" r="6"/><circle cx="332" cy="605" r="6.5"/><circle cx="357" cy="583" r="3"/><circle cx="362" cy="620" r="3"/><circle cx="268" cy="623" r="3"/>
<circle cx="140" cy="590" r="3"/><circle cx="166" cy="609" r="5"/><circle cx="176" cy="636" r="5"/><circle cx="148" cy="650" r="3"/>
<circle cx="320" cy="680" r="3"/><circle cx="350" cy="676" r="5"/><circle cx="382" cy="665" r="3"/>
<circle cx="920" cy="540" r="3"/><circle cx="924" cy="570" r="5"/><circle cx="932" cy="600" r="3"/>
<circle cx="1163" cy="560" r="3"/><circle cx="1177" cy="585" r="5"/><circle cx="1206" cy="583" r="3"/>
<circle cx="1125" cy="680" r="3"/><circle cx="1155" cy="663" r="5"/><circle cx="1177" cy="678" r="3"/>
<circle cx="1202" cy="505" r="3"/><circle cx="1228" cy="522" r="5"/><circle cx="1253" cy="538" r="5"/><circle cx="1277" cy="560" r="3"/>
<circle cx="1155" cy="740" r="3"/><circle cx="1182" cy="757" r="5"/><circle cx="1205" cy="778" r="3"/>
<circle cx="1225" cy="818" r="3"/><circle cx="1256" cy="815" r="5"/><circle cx="1285" cy="808" r="3"/>
<circle cx="978" cy="832" r="3"/><circle cx="1000" cy="850" r="5"/><circle cx="1030" cy="838" r="3"/>
<circle cx="38" cy="833" r="3"/><circle cx="29" cy="858" r="5"/><circle cx="18" cy="882" r="3"/>
<circle cx="899" cy="868" r="3"/><circle cx="911" cy="897" r="5"/><circle cx="943" cy="895" r="3"/>
<circle cx="1078" cy="862" r="3"/><circle cx="1108" cy="875" r="5"/><circle cx="1131" cy="893" r="3"/>
<circle cx="1046" cy="918" r="3"/><circle cx="1020" cy="937" r="5"/><circle cx="1008" cy="962" r="3"/>
<circle cx="1250" cy="915" r="3"/><circle cx="1278" cy="933" r="5"/><circle cx="1298" cy="955" r="3"/>
<circle cx="1105" cy="958" r="3"/><circle cx="1133" cy="967" r="5"/><circle cx="1160" cy="955" r="3"/>
<circle cx="1212" cy="952" r="3"/><circle cx="1226" cy="980" r="5"/><circle cx="1238" cy="1007" r="5"/><circle cx="1268" cy="1012" r="3"/>
<circle cx="305" cy="1055" r="3"/><circle cx="277" cy="1065" r="5"/><circle cx="275" cy="1092" r="3"/>
<circle cx="622" cy="1318" r="3"/><circle cx="655" cy="1326" r="5"/><circle cx="693" cy="1340" r="7"/><circle cx="730" cy="1334" r="3"/><circle cx="675" cy="1360" r="3"/><circle cx="720" cy="1367" r="3"/>
<circle cx="802" cy="1385" r="3"/><circle cx="820" cy="1422" r="6"/><circle cx="850" cy="1460" r="6"/><circle cx="890" cy="1477" r="7"/><circle cx="930" cy="1476" r="5"/><circle cx="960" cy="1465" r="3"/><circle cx="895" cy="1508" r="4.5"/><circle cx="900" cy="1535" r="3"/><circle cx="790" cy="1436" r="3"/>
<!-- dyads -->
<circle cx="838" cy="120" r="3"/><circle cx="846" cy="146" r="3"/><circle cx="893" cy="135" r="3"/><circle cx="899" cy="166" r="3"/><circle cx="945" cy="138" r="3"/><circle cx="962" cy="165" r="3"/><circle cx="553" cy="145" r="3"/><circle cx="541" cy="172" r="3"/><circle cx="601" cy="155" r="3"/><circle cx="601" cy="185" r="3"/><circle cx="482" cy="168" r="3"/><circle cx="455" cy="182" r="3"/><circle cx="1010" cy="172" r="3"/><circle cx="1002" cy="198" r="3"/><circle cx="1063" cy="182" r="3"/><circle cx="1064" cy="210" r="3"/><circle cx="398" cy="210" r="3"/><circle cx="372" cy="226" r="3"/><circle cx="505" cy="205" r="3"/><circle cx="509" cy="232" r="3"/><circle cx="441" cy="226" r="3"/><circle cx="460" cy="252" r="3"/><circle cx="562" cy="222" r="3"/><circle cx="573" cy="248" r="3"/><circle cx="627" cy="222" r="3"/><circle cx="632" cy="250" r="3"/><circle cx="686" cy="223" r="3"/><circle cx="718" cy="221" r="3"/><circle cx="793" cy="217" r="3"/><circle cx="826" cy="215" r="3"/><circle cx="873" cy="208" r="3"/><circle cx="881" cy="237" r="3"/><circle cx="930" cy="209" r="3"/><circle cx="950" cy="232" r="3"/><circle cx="1020" cy="243" r="3"/><circle cx="995" cy="263" r="3"/><circle cx="1137" cy="222" r="3"/><circle cx="1166" cy="237" r="3"/><circle cx="1090" cy="240" r="3"/><circle cx="1085" cy="268" r="3"/>
<circle cx="318" cy="258" r="3"/><circle cx="348" cy="270" r="3"/><circle cx="503" cy="289" r="3"/><circle cx="534" cy="287" r="3"/><circle cx="678" cy="278" r="3"/><circle cx="682" cy="306" r="3"/><circle cx="920" cy="280" r="3"/><circle cx="950" cy="290" r="3"/><circle cx="1020" cy="310" r="3"/><circle cx="1050" cy="296" r="3"/><circle cx="271" cy="295" r="3"/><circle cx="250" cy="318" r="3"/><circle cx="580" cy="312" r="3"/><circle cx="607" cy="297" r="3"/><circle cx="480" cy="343" r="3"/><circle cx="510" cy="345" r="3"/><circle cx="625" cy="355" r="3"/><circle cx="653" cy="343" r="3"/><circle cx="758" cy="353" r="3"/><circle cx="786" cy="343" r="3"/><circle cx="910" cy="340" r="3"/><circle cx="888" cy="364" r="3"/><circle cx="962" cy="342" r="3"/><circle cx="990" cy="350" r="3"/><circle cx="212" cy="350" r="3"/><circle cx="214" cy="378" r="3"/><circle cx="274" cy="360" r="3"/><circle cx="265" cy="388" r="3"/><circle cx="410" cy="356" r="3"/><circle cx="438" cy="370" r="3"/><circle cx="688" cy="380" r="3"/><circle cx="718" cy="376" r="3"/><circle cx="1280" cy="338" r="3"/><circle cx="1303" cy="358" r="3"/>
<circle cx="173" cy="403" r="3"/><circle cx="195" cy="422" r="3"/><circle cx="388" cy="405" r="3"/><circle cx="387" cy="436" r="3"/><circle cx="302" cy="428" r="3"/><circle cx="332" cy="431" r="3"/><circle cx="450" cy="420" r="3"/><circle cx="480" cy="417" r="3"/><circle cx="800" cy="406" r="3"/><circle cx="828" cy="394" r="3"/><circle cx="905" cy="414" r="3"/><circle cx="932" cy="398" r="3"/><circle cx="1272" cy="397" r="3"/><circle cx="1296" cy="410" r="3"/><circle cx="1344" cy="410" r="3"/><circle cx="1353" cy="438" r="3"/><circle cx="137" cy="440" r="3"/><circle cx="135" cy="470" r="3"/><circle cx="250" cy="438" r="3"/><circle cx="268" cy="465" r="3"/><circle cx="530" cy="450" r="3"/><circle cx="556" cy="462" r="3"/><circle cx="820" cy="457" r="3"/><circle cx="850" cy="448" r="3"/><circle cx="932" cy="460" r="3"/><circle cx="962" cy="441" r="3"/><circle cx="1230" cy="465" r="3"/><circle cx="1258" cy="452" r="3"/><circle cx="1306" cy="470" r="3"/><circle cx="1300" cy="498" r="3"/><circle cx="195" cy="472" r="3"/><circle cx="221" cy="488" r="3"/><circle cx="327" cy="488" r="3"/><circle cx="356" cy="492" r="3"/><circle cx="425" cy="472" r="3"/><circle cx="415" cy="500" r="3"/><circle cx="590" cy="508" r="3"/><circle cx="577" cy="535" r="3"/><circle cx="640" cy="528" r="3"/><circle cx="669" cy="532" r="3"/><circle cx="845" cy="507" r="3"/><circle cx="875" cy="512" r="3"/><circle cx="968" cy="497" r="3"/><circle cx="973" cy="527" r="3"/><circle cx="1368" cy="475" r="3"/><circle cx="1357" cy="502" r="3"/><circle cx="147" cy="508" r="3"/><circle cx="158" cy="533" r="3"/><circle cx="203" cy="540" r="3"/><circle cx="196" cy="567" r="3"/><circle cx="402" cy="548" r="3"/><circle cx="421" cy="570" r="3"/><circle cx="1408" cy="508" r="3"/><circle cx="1410" cy="537" r="3"/><circle cx="1330" cy="550" r="3"/><circle cx="1359" cy="553" r="3"/>
<circle cx="55" cy="620" r="3"/><circle cx="84" cy="614" r="3"/><circle cx="1410" cy="590" r="3"/><circle cx="1432" cy="578" r="3"/><circle cx="1090" cy="625" r="3"/><circle cx="1116" cy="612" r="3"/><circle cx="1338" cy="605" r="3"/><circle cx="1367" cy="611" r="3"/><circle cx="1220" cy="640" r="3"/><circle cx="1240" cy="618" r="3"/><circle cx="1290" cy="628" r="3"/><circle cx="1280" cy="655" r="3"/><circle cx="1425" cy="638" r="3"/><circle cx="1453" cy="628" r="3"/><circle cx="256" cy="677" r="3"/><circle cx="248" cy="705" r="3"/><circle cx="90" cy="662" r="3"/><circle cx="107" cy="686" r="3"/><circle cx="37" cy="676" r="3"/><circle cx="33" cy="705" r="3"/><circle cx="175" cy="692" r="3"/><circle cx="202" cy="682" r="3"/><circle cx="1330" cy="681" r="3"/><circle cx="1350" cy="660" r="3"/><circle cx="1397" cy="685" r="3"/><circle cx="1405" cy="710" r="3"/><circle cx="1455" cy="683" r="3"/><circle cx="1475" cy="698" r="3"/><circle cx="1225" cy="708" r="3"/><circle cx="1253" cy="702" r="3"/><circle cx="65" cy="745" r="3"/><circle cx="87" cy="725" r="3"/><circle cx="135" cy="735" r="3"/><circle cx="166" cy="740" r="3"/><circle cx="232" cy="760" r="3"/><circle cx="258" cy="746" r="3"/><circle cx="1268" cy="752" r="3"/><circle cx="1297" cy="748" r="3"/><circle cx="1037" cy="781" r="3"/><circle cx="1066" cy="786" r="3"/><circle cx="1345" cy="722" r="3"/><circle cx="1360" cy="750" r="3"/><circle cx="1450" cy="742" r="3"/><circle cx="1475" cy="757" r="3"/>
<circle cx="135" cy="800" r="3"/><circle cx="160" cy="785" r="3"/><circle cx="83" cy="795" r="3"/><circle cx="88" cy="822" r="3"/><circle cx="20" cy="762" r="3"/><circle cx="22" cy="790" r="3"/><circle cx="930" cy="766" r="3"/><circle cx="928" cy="793" r="3"/><circle cx="184" cy="820" r="3"/><circle cx="197" cy="843" r="3"/><circle cx="245" cy="826" r="3"/><circle cx="243" cy="855" r="3"/><circle cx="1124" cy="790" r="3"/><circle cx="1140" cy="815" r="3"/><circle cx="1340" cy="800" r="3"/><circle cx="1344" cy="830" r="3"/><circle cx="1408" cy="775" r="3"/><circle cx="1385" cy="795" r="3"/><circle cx="103" cy="870" r="3"/><circle cx="132" cy="860" r="3"/><circle cx="1449" cy="808" r="3"/><circle cx="1434" cy="838" r="3"/><circle cx="1480" cy="825" r="3"/><circle cx="1487" cy="850" r="3"/><circle cx="1185" cy="858" r="3"/><circle cx="1192" cy="886" r="3"/><circle cx="1378" cy="878" r="3"/><circle cx="1397" cy="860" r="3"/><circle cx="1278" cy="869" r="3"/><circle cx="1310" cy="870" r="3"/><circle cx="42" cy="913" r="3"/><circle cx="75" cy="912" r="3"/><circle cx="126" cy="935" r="3"/><circle cx="143" cy="913" r="3"/><circle cx="200" cy="905" r="3"/><circle cx="230" cy="910" r="3"/><circle cx="290" cy="935" r="3"/><circle cx="313" cy="955" r="3"/><circle cx="1460" cy="898" r="3"/><circle cx="1484" cy="912" r="3"/><circle cx="1345" cy="922" r="3"/><circle cx="1363" cy="940" r="3"/><circle cx="1420" cy="915" r="3"/><circle cx="1418" cy="943" r="3"/>
<circle cx="35" cy="962" r="3"/><circle cx="64" cy="965" r="3"/><circle cx="158" cy="982" r="3"/><circle cx="180" cy="960" r="3"/><circle cx="237" cy="962" r="3"/><circle cx="253" cy="986" r="3"/><circle cx="860" cy="955" r="3"/><circle cx="873" cy="980" r="3"/><circle cx="945" cy="955" r="3"/><circle cx="932" cy="980" r="3"/><circle cx="1450" cy="985" r="3"/><circle cx="1473" cy="963" r="3"/><circle cx="42" cy="1012" r="3"/><circle cx="60" cy="1032" r="3"/><circle cx="108" cy="990" r="3"/><circle cx="116" cy="1018" r="3"/><circle cx="202" cy="1018" r="3"/><circle cx="227" cy="1030" r="3"/><circle cx="315" cy="1006" r="3"/><circle cx="343" cy="1002" r="3"/><circle cx="980" cy="1020" r="3"/><circle cx="972" cy="1045" r="3"/><circle cx="1055" cy="1000" r="3"/><circle cx="1083" cy="1015" r="3"/><circle cx="1345" cy="995" r="3"/><circle cx="1373" cy="990" r="3"/><circle cx="1395" cy="1015" r="3"/><circle cx="1415" cy="1036" r="3"/><circle cx="150" cy="1050" r="3"/><circle cx="180" cy="1062" r="3"/><circle cx="70" cy="1077" r="3"/><circle cx="98" cy="1074" r="3"/><circle cx="1030" cy="1068" r="3"/><circle cx="1025" cy="1092" r="3"/><circle cx="1088" cy="1068" r="3"/><circle cx="1116" cy="1064" r="3"/><circle cx="1168" cy="1028" r="3"/><circle cx="1185" cy="1050" r="3"/><circle cx="1315" cy="1030" r="3"/><circle cx="1333" cy="1055" r="3"/><circle cx="1440" cy="1062" r="3"/><circle cx="1458" cy="1037" r="3"/><circle cx="1228" cy="1083" r="3"/><circle cx="1255" cy="1068" r="3"/><circle cx="1278" cy="1112" r="3"/><circle cx="1305" cy="1100" r="3"/><circle cx="1370" cy="1085" r="3"/><circle cx="1373" cy="1112" r="3"/><circle cx="1415" cy="1135" r="3"/><circle cx="1420" cy="1105" r="3"/>
<circle cx="145" cy="1105" r="3"/><circle cx="170" cy="1118" r="3"/><circle cx="222" cy="1111" r="3"/><circle cx="218" cy="1140" r="3"/><circle cx="84" cy="1122" r="3"/><circle cx="90" cy="1148" r="3"/><circle cx="1162" cy="1100" r="3"/><circle cx="1183" cy="1122" r="3"/><circle cx="1075" cy="1140" r="4.5"/><circle cx="1104" cy="1133" r="5"/><circle cx="263" cy="1147" r="3"/><circle cx="292" cy="1152" r="3"/><circle cx="1228" cy="1145" r="3"/><circle cx="1240" cy="1172" r="3"/><circle cx="1318" cy="1152" r="3"/><circle cx="1345" cy="1160" r="3"/><circle cx="138" cy="1160" r="3"/><circle cx="164" cy="1173" r="3"/><circle cx="1160" cy="1172" r="3"/><circle cx="1155" cy="1200" r="3"/><circle cx="1083" cy="1198" r="3"/><circle cx="1106" cy="1186" r="3"/><circle cx="1388" cy="1180" r="3"/><circle cx="1378" cy="1208" r="3"/><circle cx="1288" cy="1196" r="3"/><circle cx="1315" cy="1201" r="3"/><circle cx="1255" cy="1240" r="3"/><circle cx="1268" cy="1268" r="3"/><circle cx="122" cy="1210" r="3"/><circle cx="143" cy="1230" r="3"/><circle cx="200" cy="1205" r="3"/><circle cx="198" cy="1232" r="3"/><circle cx="262" cy="1198" r="3"/><circle cx="250" cy="1225" r="3"/><circle cx="316" cy="1225" r="3"/><circle cx="340" cy="1212" r="3"/><circle cx="372" cy="1257" r="3"/><circle cx="393" cy="1245" r="3"/><circle cx="1198" cy="1210" r="3"/><circle cx="1212" cy="1235" r="3"/><circle cx="1317" cy="1253" r="3"/><circle cx="1345" cy="1255" r="3"/>
<circle cx="175" cy="1278" r="3"/><circle cx="202" cy="1288" r="3"/><circle cx="265" cy="1270" r="3"/><circle cx="295" cy="1270" r="3"/><circle cx="418" cy="1292" r="3"/><circle cx="438" cy="1273" r="3"/><circle cx="495" cy="1275" r="3"/><circle cx="518" cy="1295" r="3"/><circle cx="228" cy="1330" r="3"/><circle cx="248" cy="1310" r="3"/><circle cx="316" cy="1318" r="3"/><circle cx="337" cy="1302" r="3"/><circle cx="1285" cy="1328" r="3"/><circle cx="1305" cy="1308" r="3"/><circle cx="353" cy="1353" r="3"/><circle cx="373" cy="1335" r="3"/><circle cx="462" cy="1325" r="3"/><circle cx="484" cy="1343" r="3"/><circle cx="545" cy="1351" r="3"/><circle cx="565" cy="1328" r="3"/><circle cx="272" cy="1352" r="3"/><circle cx="280" cy="1380" r="3"/><circle cx="398" cy="1373" r="3"/><circle cx="426" cy="1362" r="3"/><circle cx="1198" cy="1386" r="3"/><circle cx="1230" cy="1383" r="3"/><circle cx="315" cy="1413" r="3"/><circle cx="336" cy="1395" r="3"/><circle cx="368" cy="1430" r="3"/><circle cx="398" cy="1426" r="3"/><circle cx="445" cy="1415" r="3"/><circle cx="467" cy="1437" r="3"/><circle cx="492" cy="1395" r="3"/><circle cx="520" cy="1390" r="3"/><circle cx="570" cy="1408" r="3"/><circle cx="594" cy="1390" r="3"/><circle cx="642" cy="1403" r="3"/><circle cx="673" cy="1412" r="3"/><circle cx="743" cy="1420" r="3"/><circle cx="737" cy="1447" r="3"/><circle cx="870" cy="1410" r="3"/><circle cx="898" cy="1425" r="3"/><circle cx="1142" cy="1440" r="3"/><circle cx="1170" cy="1427" r="3"/><circle cx="1066" cy="1453" r="3"/><circle cx="1089" cy="1473" r="3"/><circle cx="1013" cy="1460" r="3"/><circle cx="1030" cy="1482" r="3"/><circle cx="413" cy="1472" r="3"/><circle cx="440" cy="1478" r="3"/><circle cx="523" cy="1450" r="3"/><circle cx="534" cy="1477" r="3"/><circle cx="580" cy="1455" r="3"/><circle cx="578" cy="1485" r="3"/><circle cx="627" cy="1460" r="3"/><circle cx="639" cy="1487" r="3"/><circle cx="686" cy="1458" r="3"/><circle cx="693" cy="1485" r="3"/><circle cx="752" cy="1500" r="3"/><circle cx="774" cy="1485" r="3"/><circle cx="487" cy="1500" r="3"/><circle cx="511" cy="1515" r="3"/><circle cx="588" cy="1533" r="3"/><circle cx="616" cy="1532" r="3"/><circle cx="660" cy="1550" r="3"/><circle cx="688" cy="1538" r="3"/><circle cx="743" cy="1550" r="3"/><circle cx="768" cy="1553" r="3"/><circle cx="808" cy="1532" r="3"/><circle cx="836" cy="1542" r="3"/><circle cx="968" cy="1520" r="3"/><circle cx="996" cy="1513" r="3"/>
</g>
<g id="labelled-nodes" class="n">
<g id="node-iwrm"><circle cx="668" cy="693" r="8.5"/></g>
<g id="node-climate-change"><circle cx="562" cy="703" r="10"/></g>
<g id="node-water-governance"><circle cx="733" cy="775" r="11.5"/></g>
<g id="node-water-scarcity"><circle cx="549" cy="830" r="10.5"/></g>
<g id="node-water-demand"><circle cx="392" cy="845" r="10.5"/></g>
<g id="node-water-supply"><circle cx="474" cy="892" r="9"/></g>
<g id="node-water-management"><circle cx="691" cy="908" r="9.5"/></g>
<g id="node-water"><circle cx="499" cy="1068" r="13.5"/></g>
<g id="node-virtual-water"><circle cx="684" cy="1080" r="10.5"/></g>
<g id="node-virtual-water-trade"><circle cx="709" cy="1180" r="10"/></g>
<g id="node-water-footprint"><circle cx="797" cy="1152" r="14"/></g>
<g id="node-water-resource"><circle cx="893" cy="1185" r="10"/></g>
<g id="node-water-energy-nexus"><circle cx="1100" cy="1355" r="10"/></g>
<g id="node-water-conservation"><circle cx="1079" cy="418" r="11"/></g>
</g>
<g id="labels">
<text class="lb" x="493" y="685" textLength="389" lengthAdjust="spacingAndGlyphs">INTEGRATED WATER RESOURCE MANAGEMENT</text>
<text class="lb" x="471" y="729" textLength="146" lengthAdjust="spacingAndGlyphs">CLIMATE CHANGE</text>
<text class="lb" x="624" y="803" textLength="184" lengthAdjust="spacingAndGlyphs">WATER GOVERNANCE</text>
<text class="lb" x="456" y="822" textLength="150" lengthAdjust="spacingAndGlyphs">WATER SCARCITY</text>
<text class="lb" x="306" y="874" textLength="137" lengthAdjust="spacingAndGlyphs">WATER DEMAND</text>
<text class="lb" x="428" y="919" textLength="131" lengthAdjust="spacingAndGlyphs">WATER SUPPLY</text>
<text class="lb" x="617" y="899" textLength="185" lengthAdjust="spacingAndGlyphs">WATER MANAGEMENT</text>
<text class="lb" x="450" y="1097" textLength="61" lengthAdjust="spacingAndGlyphs">WATER</text>
<text class="lb" x="598" y="1107" textLength="138" lengthAdjust="spacingAndGlyphs">VIRTUAL WATER</text>
<text class="lb" x="737" y="1143" textLength="159" lengthAdjust="spacingAndGlyphs">WATER FOOTPRINT</text>
<text class="lb" x="591" y="1207" textLength="199" lengthAdjust="spacingAndGlyphs">VIRTUAL WATER TRADE</text>
<text class="lb" x="831" y="1211" textLength="157" lengthAdjust="spacingAndGlyphs">WATER RESOURCE</text>
<text class="lb" x="983" y="1384" textLength="197" lengthAdjust="spacingAndGlyphs">WATER-ENERGY NEXUS</text>
<text class="lb" x="996" y="411" textLength="200" lengthAdjust="spacingAndGlyphs">WATER CONSERVATION</text>
</g>
</g>
</svg>
